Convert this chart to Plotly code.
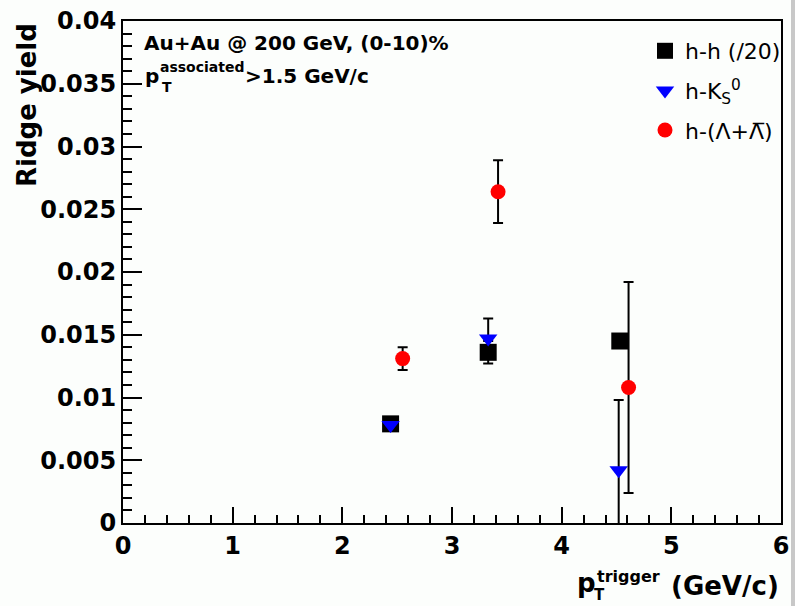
import plotly.graph_objects as go

# ---- data ----
pt_hh = [2.44, 3.33, 4.53]
yield_hh = [0.0079, 0.0136, 0.0145]
err_hh = [0.0003, 0.0009, 0.0004]

pt_k0 = [2.44, 3.33, 4.52]
yield_k0 = [0.0078, 0.0147, 0.0042]
err_k0 = [0.0003, 0.0016, 0.0056]

pt_lam = [2.55, 3.42, 4.61]
yield_lam = [0.0131, 0.0264, 0.0108]
err_lam = [0.0009, 0.0025, 0.0084]

name_hh = "h-h (/20)"
name_k0 = "h-K<sub>S</sub><sup>0</sup>"
name_lam = "h-(\u039b+\u039b\u0305)"

x_ticks = [0, 1, 2, 3, 4, 5, 6]
y_ticks = [0, 0.005, 0.01, 0.015, 0.02, 0.025, 0.03, 0.035, 0.04]

BOLD = "DejaVu Sans"
W, H = 795, 606
L, R, T, B = 123, 14, 21, 83


def px(xp):
    return (xp - L) / (W - L - R)


def py(yp):
    return (H - B - yp) / (H - T - B)


fig = go.Figure()
err_style = dict(type="data", color="black", thickness=2, width=5)
fig.add_trace(go.Scatter(
    x=pt_hh, y=yield_hh, mode="markers", name=name_hh, legendgroup="a",
    marker=dict(symbol="square", size=17, color="black"),
    error_y=dict(array=err_hh, **err_style)))
fig.add_trace(go.Scatter(
    x=pt_k0, y=yield_k0, mode="markers", name=name_k0, legendgroup="b",
    marker=dict(symbol="triangle-down", size=16, color="#0000ff"),
    error_y=dict(array=err_k0, **err_style)))
fig.add_trace(go.Scatter(
    x=pt_lam, y=yield_lam, mode="markers", name=name_lam, legendgroup="c",
    marker=dict(symbol="circle", size=15, color="#ff0000"),
    error_y=dict(array=err_lam, **err_style)))

axis_common = dict(
    showgrid=False, zeroline=False, showline=True, linecolor="black",
    linewidth=2, mirror=True, ticks="inside", tickcolor="black",
    tickwidth=2, automargin=False,
    tickfont=dict(family=BOLD, size=24, color="black", weight="bold"),
)
fig.update_xaxes(range=[0, 6], tickvals=x_ticks, ticklen=16,
                 minor=dict(ticks="inside", dtick=0.2, ticklen=8,
                            tickcolor="black", tickwidth=2),
                 **axis_common)
fig.update_yaxes(range=[0, 0.04], tickvals=y_ticks, ticklen=19,
                 minor=dict(ticks="inside", dtick=0.001, ticklen=9,
                            tickcolor="black", tickwidth=2),
                 **axis_common)

ann = []
# y title
ann.append(dict(text="<b>Ridge yield</b>", x=px(27), y=1.0, xref="paper",
                yref="paper", xanchor="center", yanchor="top", textangle=-90,
                showarrow=False, font=dict(family=BOLD, size=26, color="black")))
# x title pieces
ann.append(dict(text="<b>(GeV/c)</b>", x=px(781), y=py(586), xref="paper", yref="paper",
                xanchor="right", yanchor="middle", showarrow=False,
                font=dict(family=BOLD, size=26, color="black")))
ann.append(dict(text="<b>p</b>", x=px(575), y=py(583), xref="paper", yref="paper",
                xanchor="left", yanchor="middle", showarrow=False,
                font=dict(family=BOLD, size=26, color="black")))
ann.append(dict(text="<b>trigger</b>", x=px(595), y=py(576), xref="paper", yref="paper",
                xanchor="left", yanchor="middle", showarrow=False,
                font=dict(family=BOLD, size=16, color="black")))
ann.append(dict(text="<b>T</b>", x=px(592), y=py(595), xref="paper", yref="paper",
                xanchor="left", yanchor="middle", showarrow=False,
                font=dict(family=BOLD, size=15, color="black")))
# header text
ann.append(dict(text="<b>Au+Au @ 200 GeV, (0-10)%</b>", x=px(142), y=py(43),
                xref="paper", yref="paper", xanchor="left", yanchor="middle",
                showarrow=False, font=dict(family=BOLD, size=20, color="black")))
ann.append(dict(text="<b>p</b>", x=px(143), y=py(76), xref="paper", yref="paper",
                xanchor="left", yanchor="middle", showarrow=False,
                font=dict(family=BOLD, size=20, color="black")))
ann.append(dict(text="<b>associated</b>", x=px(158), y=py(67), xref="paper", yref="paper",
                xanchor="left", yanchor="middle", showarrow=False,
                font=dict(family=BOLD, size=14, color="black")))
ann.append(dict(text="<b>T</b>", x=px(160), y=py(87), xref="paper", yref="paper",
                xanchor="left", yanchor="middle", showarrow=False,
                font=dict(family=BOLD, size=14, color="black")))
ann.append(dict(text="<b>>1.5 GeV/c</b>", x=px(243), y=py(76), xref="paper", yref="paper",
                xanchor="left", yanchor="middle", showarrow=False,
                font=dict(family=BOLD, size=20, color="black")))

fig.update_layout(
    width=W, height=H,
    margin=dict(l=L, r=R, t=T, b=B, pad=0, autoexpand=False),
    paper_bgcolor="#fcfefc", plot_bgcolor="#fcfefc",
    showlegend=True,
    legend=dict(x=px(645), y=py(30), xanchor="left", yanchor="top",
                bgcolor="rgba(0,0,0,0)", font=dict(family="DejaVu Sans", size=22, color="black"),
                tracegroupgap=8, itemwidth=30),
    annotations=ann,
    shapes=[dict(type="rect", xref="paper", yref="paper", x0=px(791), x1=px(796),
                 y0=py(606), y1=py(0), fillcolor="#c8c8c8", line=dict(width=0))],
)

fig.write_html("out.html", config={"displayModeBar": False},
               post_script="document.body.style.margin='0px';")
